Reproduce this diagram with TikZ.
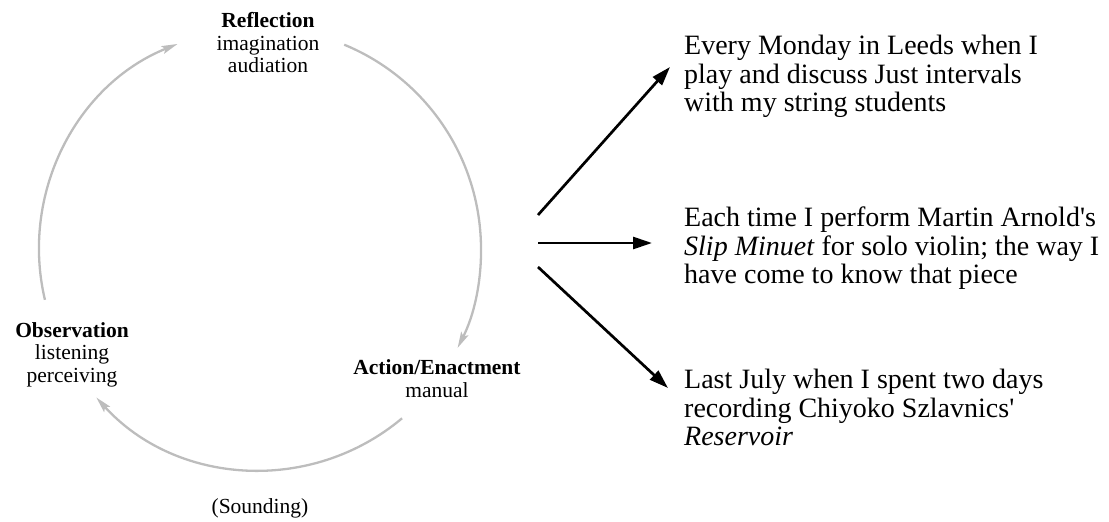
\documentclass[tikz,border=0pt]{standalone}
\usepackage{fontspec}
\setmainfont{Liberation Serif}
\usepackage{tikz}
\usetikzlibrary{calc}
\usetikzlibrary{arrows.meta}
\definecolor{cyclegray}{HTML}{BDBDBD}
\tikzset{
    cyclearc/.style={draw=cyclegray, line width=2.3pt, -{Stealth[length=16pt,width=8pt,inset=3pt]}},
    stage/.style={anchor=north, align=center, inner sep=0pt, font=\fontsize{21.5}{22.5}\selectfont},
    example/.style={anchor=north west, align=left, inner sep=0pt, font=\fontsize{28}{28.5}\selectfont},
    pointer/.style={line width=2.7pt, -{Triangle[length=19pt,width=12pt]}}
}

\begin{document}
\begin{tikzpicture}[x=1pt,y=1pt]
\useasboundingbox (0,0) rectangle (1109,-522);
\coordinate (O) at (260,-249);
\draw[cyclearc] ($(O)+(67.6:221)$) arc[start angle=67.6, end angle=-26.6, radius=221];
\draw[cyclearc] ($(O)+(-50:221)$) arc[start angle=-50, end angle=-137.8, radius=221];
\draw[cyclearc] ($(O)+(193.3:221)$) arc[start angle=193.3, end angle=111.9, radius=221];
\node[stage] (refl) at (268,-12.5) {\textbf{Reflection}\\imagination\\audiation};
\node[stage] (obs) at (72,-322) {\textbf{Observation}\\listening\\perceiving};
\node[stage] (act) at (437,-359.5) {\textbf{Action/Enactment}\\manual};
\node[stage, anchor=base] (snd) at (260,-513) {(Sounding)};
\node[example] (ex1) at (684,-35) {Every Monday in Leeds when I\\play and discuss Just intervals\\with my string students};
\node[example] (ex2) at (684,-207) {Each time I perform Martin Arnold\textquotesingle s\\\textit{Slip Minuet} for solo violin; the way I\\have come to know that piece};
\node[example] (ex3) at (684,-369) {Last July when I spent two days\\recording Chiyoko Szlavnics\textquotesingle\\\textit{Reservoir}};
\coordinate (f1) at (538,-215);
\coordinate (f2) at (538,-243);
\coordinate (f3) at (538,-267);
\coordinate (t1) at (670,-67);
\coordinate (t2) at (652,-243);
\coordinate (t3) at (668,-388);
\draw[pointer] (f1) -- (t1);
\draw[pointer] (f2) -- (t2);
\draw[pointer] (f3) -- (t3);
\end{tikzpicture}
\end{document}
